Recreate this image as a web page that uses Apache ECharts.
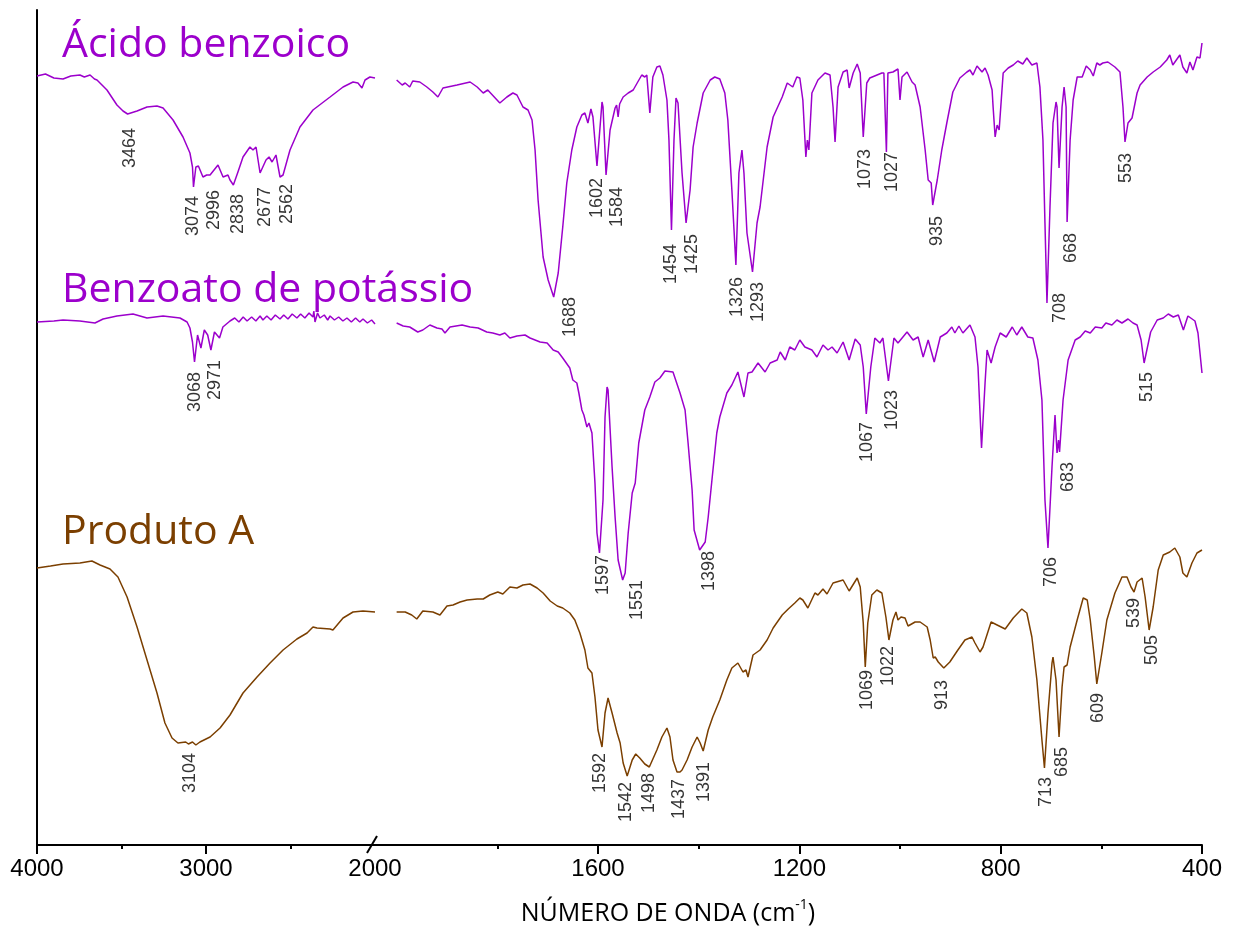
<!DOCTYPE html>
<html><head><meta charset="utf-8">
<script src="https://cdn.jsdelivr.net/npm/echarts@6/dist/echarts.min.js"></script>
<style>html,body{margin:0;padding:0;background:#fff}#c{width:1236px;height:934px}</style>
</head><body><div id="c"></div>
<script>
// ---- Data: [wavenumber (cm-1), offset transmittance (arb. units)] ----
const acidLeft = [[4000,769],[3950,771],[3900,767],[3846,766],[3800,769],[3746,770],[3720,768],[3686,770],[3660,766],[3645,765],[3586,755],[3527,740],[3491,734],[3464,731],[3408,734],[3349,738],[3290,739],[3254,737],[3195,725],[3136,708],[3095,692],[3080,678],[3074,658],[3060,678],[3045,679],[3018,668],[2996,670],[2976,670],[2929,680],[2899,668],[2870,670],[2858,665],[2838,660],[2811,673],[2781,688],[2740,698],[2722,695],[2704,698],[2680,672],[2677,670],[2645,685],[2627,688],[2609,683],[2586,690],[2562,668],[2544,670],[2503,695],[2444,718],[2367,735],[2266,748],[2189,758],[2130,763],[2101,762],[2077,757],[2059,765],[2030,768],[2000,767]];
const acidRight = [[2000,765],[1989,760],[1983,762],[1974,758],[1968,764],[1954,763],[1940,758],[1928,753],[1918,748],[1908,757],[1880,760],[1854,763],[1840,758],[1828,752],[1819,755],[1795,742],[1781,748],[1769,752],[1761,750],[1749,738],[1739,735],[1731,725],[1725,695],[1719,645],[1709,588],[1699,565],[1688,548],[1679,572],[1670,618],[1662,662],[1652,695],[1642,718],[1632,730],[1626,732],[1620,722],[1614,736],[1610,728],[1602,679],[1592,743],[1590,738],[1584,670],[1576,715],[1566,737],[1563,740],[1560,728],[1557,741],[1550,748],[1540,752],[1530,755],[1521,763],[1513,770],[1507,768],[1503,770],[1497,732],[1491,768],[1483,778],[1477,779],[1471,770],[1463,745],[1459,705],[1454,615],[1449,705],[1445,747],[1441,742],[1433,672],[1425,622],[1417,655],[1411,698],[1403,722],[1391,752],[1377,765],[1368,768],[1358,766],[1348,752],[1342,725],[1334,655],[1326,580],[1320,672],[1314,695],[1310,672],[1304,612],[1293,573],[1284,622],[1278,638],[1264,698],[1252,728],[1234,748],[1224,762],[1213,758],[1205,768],[1199,767],[1193,745],[1187,688],[1184,705],[1181,695],[1175,752],[1163,765],[1149,772],[1139,770],[1133,738],[1129,703],[1123,758],[1113,773],[1105,775],[1101,757],[1093,772],[1085,781],[1079,772],[1073,708],[1066,762],[1060,767],[1036,772],[1032,772],[1027,693],[1024,772],[1014,773],[1004,776],[1000,745],[996,768],[986,773],[984,775],[976,763],[970,760],[960,738],[950,695],[944,665],[938,662],[935,640],[926,665],[917,695],[907,722],[895,753],[881,767],[867,773],[861,775],[855,770],[847,779],[837,773],[831,777],[825,770],[817,755],[815,738],[811,708],[807,720],[803,715],[795,772],[785,777],[775,780],[766,784],[756,781],[748,787],[738,780],[728,782],[722,758],[716,705],[712,622],[708,542],[702,638],[696,722],[690,743],[688,738],[684,677],[678,738],[674,758],[670,738],[668,623],[662,705],[656,745],[648,768],[638,768],[630,779],[622,775],[616,769],[609,782],[603,780],[597,782],[587,783],[573,778],[563,773],[557,738],[553,703],[547,722],[539,727],[529,752],[523,760],[509,768],[497,773],[483,778],[470,785],[464,790],[458,780],[444,790],[438,778],[430,772],[424,783],[418,775],[410,788],[404,787],[400,802]];
const benzLeft = [[4000,523],[3900,524],[3846,525],[3746,524],[3657,522],[3609,526],[3527,529],[3432,531],[3349,527],[3254,529],[3154,527],[3112,523],[3095,517],[3080,503],[3068,483],[3050,510],[3030,497],[3010,515],[2990,510],[2971,495],[2950,513],[2920,507],[2900,518],[2858,524],[2830,527],[2805,523],[2780,528],[2757,524],[2730,528],[2705,524],[2680,529],[2663,525],[2640,529],[2615,525],[2590,530],[2562,526],[2540,530],[2515,526],[2490,531],[2462,527],[2440,531],[2415,527],[2390,532],[2367,528],[2362,534],[2355,523],[2340,532],[2326,527],[2300,530],[2280,525],[2266,529],[2240,525],[2215,528],[2190,524],[2166,527],[2140,523],[2115,527],[2090,523],[2071,526],[2045,522],[2020,525],[2000,521]];
const benzRight = [[2000,522],[1987,519],[1974,518],[1958,513],[1948,515],[1934,520],[1920,517],[1910,516],[1904,512],[1894,518],[1870,520],[1854,518],[1838,517],[1821,513],[1809,512],[1795,510],[1785,512],[1775,507],[1761,509],[1745,510],[1735,507],[1725,505],[1715,503],[1701,502],[1689,495],[1679,493],[1670,487],[1656,477],[1650,465],[1642,462],[1638,452],[1632,435],[1628,430],[1622,418],[1618,422],[1612,412],[1606,362],[1602,312],[1597,292],[1590,345],[1586,428],[1582,458],[1580,455],[1572,378],[1566,328],[1560,285],[1551,265],[1546,272],[1540,312],[1532,352],[1526,362],[1519,402],[1507,435],[1497,448],[1487,463],[1477,467],[1467,474],[1451,473],[1437,452],[1427,435],[1421,402],[1413,355],[1409,315],[1398,295],[1387,303],[1381,328],[1373,368],[1364,412],[1358,428],[1344,452],[1334,460],[1322,473],[1310,448],[1302,472],[1294,473],[1282,482],[1268,473],[1258,482],[1244,485],[1238,493],[1228,485],[1219,498],[1209,495],[1199,505],[1189,498],[1175,495],[1165,488],[1153,500],[1143,495],[1135,498],[1125,492],[1113,503],[1101,485],[1089,506],[1079,500],[1073,478],[1067,431],[1058,478],[1050,507],[1040,502],[1034,507],[1023,464],[1012,507],[1004,502],[986,513],[974,505],[964,508],[954,488],[944,505],[932,483],[920,508],[907,512],[897,518],[891,512],[883,519],[875,512],[861,520],[851,508],[845,478],[838,397],[831,462],[827,495],[819,482],[811,498],[801,512],[789,508],[777,518],[768,510],[758,518],[746,508],[736,507],[726,485],[718,445],[712,345],[706,297],[698,378],[692,430],[688,392],[685,405],[683,393],[676,445],[666,485],[652,505],[642,508],[632,514],[622,512],[612,518],[599,517],[591,522],[579,520],[569,525],[559,522],[547,526],[537,522],[529,520],[521,505],[515,482],[502,513],[489,525],[477,527],[467,531],[457,528],[447,530],[437,515],[428,529],[414,524],[408,512],[400,472]];
const prodLeft = [[4000,277],[3920,279],[3846,281],[3746,282],[3675,284],[3627,280],[3568,276],[3521,268],[3467,248],[3408,218],[3349,185],[3290,152],[3243,122],[3201,107],[3166,102],[3120,103],[3104,101],[3080,103],[3060,100],[3036,103],[2976,108],[2917,117],[2858,130],[2781,152],[2698,168],[2621,182],[2544,195],[2462,206],[2402,212],[2367,218],[2343,217],[2266,216],[2249,215],[2189,227],[2130,233],[2071,234],[2000,233]];
const prodRight = [[2000,233],[1983,233],[1970,230],[1960,226],[1948,234],[1928,233],[1914,230],[1900,239],[1888,240],[1874,243],[1860,245],[1840,246],[1828,246],[1815,250],[1799,253],[1789,251],[1775,258],[1761,257],[1749,260],[1735,261],[1721,257],[1709,252],[1695,244],[1681,239],[1670,237],[1656,232],[1646,225],[1636,212],[1626,195],[1620,177],[1612,172],[1606,148],[1600,115],[1592,98],[1586,132],[1580,147],[1572,132],[1562,112],[1556,102],[1550,82],[1542,69],[1532,85],[1525,91],[1517,87],[1507,81],[1498,78],[1483,95],[1473,108],[1463,117],[1457,108],[1451,85],[1443,73],[1437,73],[1433,75],[1423,85],[1413,98],[1403,108],[1397,102],[1391,94],[1381,115],[1372,128],[1358,145],[1344,165],[1334,177],[1322,182],[1312,173],[1306,175],[1302,168],[1292,190],[1278,195],[1264,205],[1252,217],[1234,230],[1222,236],[1209,242],[1199,247],[1193,245],[1183,237],[1169,252],[1163,250],[1153,256],[1145,251],[1133,262],[1113,265],[1101,254],[1085,267],[1079,258],[1073,222],[1069,178],[1064,222],[1056,250],[1046,255],[1036,252],[1028,228],[1022,205],[1014,225],[1008,233],[1004,225],[998,228],[990,227],[984,219],[970,223],[960,223],[946,218],[940,205],[934,187],[930,188],[924,183],[913,177],[901,183],[885,195],[871,205],[857,208],[851,202],[841,193],[835,198],[819,223],[807,220],[791,216],[775,227],[758,236],[748,232],[738,208],[728,165],[718,105],[713,77],[706,132],[698,182],[696,188],[690,165],[684,108],[678,158],[674,178],[668,180],[662,198],[648,225],[636,247],[628,245],[622,225],[614,188],[609,161],[599,192],[589,225],[573,252],[559,268],[549,268],[541,258],[535,253],[529,263],[519,267],[513,248],[505,215],[497,238],[487,275],[477,290],[464,293],[454,297],[444,288],[438,272],[430,268],[420,282],[410,292],[400,295]];

// Peak labels: [peak, label x (cm-1), label top (arb. units)]
const acidPeaks = [[3464,3450,717],[3074,3077,649],[2996,2953,655],[2838,2811,651],[2677,2651,658],[2562,2521,661],[1688,1656,548],[1602,1602,667],[1584,1562,658],[1454,1455,601],[1425,1413,611],[1326,1324,568],[1293,1282,563],[1073,1070,696],[1027,1016,693],[935,926,629],[708,682,552],[668,660,612],[553,551,692]];
const benzPeaks = [[3068,3065,473],[2971,2947,485],[1597,1590,290],[1551,1523,265],[1398,1379,294],[1067,1066,423],[1023,1016,455],[706,700,288],[683,666,383],[515,509,473]];
const prodPeaks = [[3104,3095,92],[1592,1596,92],[1542,1544,63],[1498,1499,72],[1437,1439,66],[1391,1389,83],[1069,1066,175],[1022,1024,199],[913,917,165],[713,710,68],[685,678,98],[609,607,152],[539,535,247],[505,499,210]];

const seriesNames = ['Ácido benzoico','Benzoato de potássio','Produto A'];
const leftTicksMajor = [4000,3000], leftTicksMinor = [3500,2500], leftLabels = [4000,3000,2000];
const rightTicksMajor = [1600,1200,800,400], rightTicksMinor = [1800,1400,1000,600], rightLabels = [1600,1200,800,400];

const PURPLE = '#9C00CC', BROWN = '#7B3F00';
const chart = echarts.init(document.getElementById('c'), null, {renderer:'canvas'});

function lineSeries(data, color, g) {
  return {type:'line', xAxisIndex:g, yAxisIndex:g, data:data, symbol:'none', showSymbol:false,
    lineStyle:{color:color, width:1.5}, silent:true, animation:false, z:2};
}
function labelSeries(peaks, g) {
  const sel = peaks.filter(p => g === 0 ? p[1] > 2000 : p[1] < 2000);
  return {type:'scatter', xAxisIndex:g, yAxisIndex:g, symbolSize:1, itemStyle:{color:'rgba(0,0,0,0)'},
    data: sel.map(p => ({name:String(p[0]), value:[p[1], p[2]]})),
    label:{show:true, formatter:'{b}', position:'inside', rotate:90, align:'right', verticalAlign:'middle',
      color:'#000', fontSize:18, fontFamily:'"Liberation Sans", Arial, sans-serif'},
    silent:true, animation:false, z:3};
}
const axisCommon = {type:'value', inverse:true, position:'bottom', splitLine:{show:false}};
const lineBlack = {color:'#000', width:2};
const labelFont = {fontSize:24, color:'#000', fontFamily:'"Liberation Sans", Arial, sans-serif', margin:12, formatter: v => String(v)};

chart.setOption({
  animation:false,
  grid:[{left:37, width:338, top:10, bottom:89}, {left:375, width:827, top:10, bottom:89}],
  xAxis:[
    Object.assign({}, axisCommon, {gridIndex:0, min:2000, max:4000,
      axisLine:{show:true, onZero:false, lineStyle:lineBlack},
      axisTick:{show:true, customValues:leftTicksMajor, length:9, lineStyle:lineBlack},
      axisLabel:Object.assign({customValues:leftLabels}, labelFont)}),
    Object.assign({}, axisCommon, {gridIndex:1, min:400, max:2043,
      axisLine:{show:true, onZero:false, lineStyle:lineBlack},
      axisTick:{show:true, customValues:rightTicksMajor, length:9, lineStyle:lineBlack},
      axisLabel:Object.assign({customValues:rightLabels}, labelFont)}),
    Object.assign({}, axisCommon, {gridIndex:0, min:2000, max:4000,
      axisLine:{show:false}, axisTick:{show:true, customValues:leftTicksMinor, length:4, lineStyle:lineBlack},
      axisLabel:{show:false}}),
    Object.assign({}, axisCommon, {gridIndex:1, min:400, max:2043,
      axisLine:{show:false}, axisTick:{show:true, customValues:rightTicksMinor, length:4, lineStyle:lineBlack},
      axisLabel:{show:false}})
  ],
  yAxis:[
    {gridIndex:0, type:'value', min:0, max:835, axisLine:{show:true, lineStyle:lineBlack}, axisTick:{show:false}, axisLabel:{show:false}, splitLine:{show:false}},
    {gridIndex:1, type:'value', min:0, max:835, show:false}
  ],
  series:[
    lineSeries(acidLeft, PURPLE, 0), lineSeries(acidRight, PURPLE, 1),
    lineSeries(benzLeft, PURPLE, 0), lineSeries(benzRight, PURPLE, 1),
    lineSeries(prodLeft, BROWN, 0), lineSeries(prodRight, BROWN, 1),
    labelSeries(acidPeaks, 0), labelSeries(acidPeaks, 1),
    labelSeries(benzPeaks, 0), labelSeries(benzPeaks, 1),
    labelSeries(prodPeaks, 0), labelSeries(prodPeaks, 1)
  ],
  graphic:[
    {type:'text', x:62, y:45, style:{text:seriesNames[0], font:'41px "Open Sans"', fill:PURPLE, align:'left', verticalAlign:'middle'}},
    {type:'text', x:62, y:290, style:{text:seriesNames[1], font:'41px "Open Sans"', fill:PURPLE, align:'left', verticalAlign:'middle'}},
    {type:'text', x:62, y:532, style:{text:seriesNames[2], font:'41px "Open Sans"', fill:BROWN, align:'left', verticalAlign:'middle'}},
    {type:'line', shape:{x1:367, y1:853, x2:377, y2:836}, style:{stroke:'#000', lineWidth:2}, z:10},
    {type:'text', x:668, y:914, style:{text:'{a|NÚMERO DE ONDA (cm}{s|-1}{a|)}', align:'center', verticalAlign:'middle',
      rich:{a:{font:'25px "Open Sans"', fill:'#000', lineHeight:32}, s:{font:'14px "Open Sans"', fill:'#000', verticalAlign:'top', lineHeight:32}}}}
  ]
});
</script>
</body></html>
